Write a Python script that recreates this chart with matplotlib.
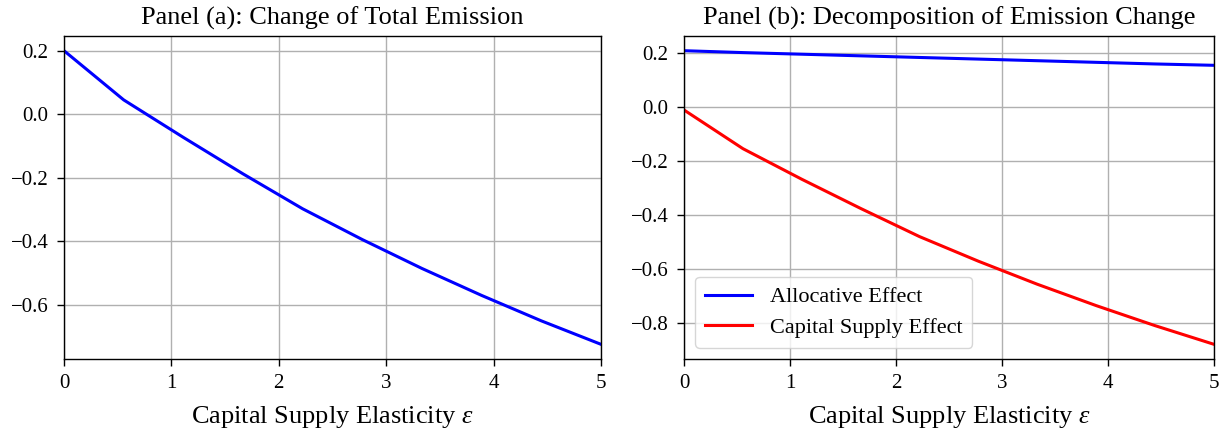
import numpy as np
import matplotlib
matplotlib.use("Agg")
import matplotlib.pyplot as plt

plt.rcParams["font.family"] = ["Liberation Serif", "DejaVu Serif"]
plt.rcParams["mathtext.fontset"] = "custom"
plt.rcParams["mathtext.rm"] = "Liberation Serif"
plt.rcParams["mathtext.it"] = "Liberation Serif:italic"

# Capital supply elasticity grid
epsilon = [0.0, 0.556, 1.111, 1.667, 2.222, 2.778, 3.333, 3.889, 4.444, 5.0]

# Change of total emission
total_change = [0.200, 0.045, -0.073, -0.188, -0.298, -0.395, -0.486, -0.571, -0.651, -0.725]

# Decomposition
allocative = [0.207, 0.200, 0.194, 0.188, 0.182, 0.176, 0.170, 0.164, 0.158, 0.153]
capital_supply = [-0.012, -0.155, -0.268, -0.376, -0.480, -0.571, -0.656, -0.735, -0.809, -0.878]

xlabel = r"Capital Supply Elasticity $\varepsilon$"
xticks = [0, 1, 2, 3, 4, 5]

fig = plt.figure(figsize=(12.28, 4.36), dpi=100)
ax1 = fig.add_axes([0.0521, 0.1766, 0.4373, 0.7408])
ax2 = fig.add_axes([0.5570, 0.1766, 0.4316, 0.7408])

ax1.plot(epsilon, total_change, color="blue", lw=2.2)
ax1.set_title("Panel (a): Change of Total Emission", fontsize=19, pad=8)

ax2.plot(epsilon, allocative, color="blue", lw=2.2, label="Allocative Effect")
ax2.plot(epsilon, capital_supply, color="red", lw=2.2, label="Capital Supply Effect")
ax2.set_title("Panel (b): Decomposition of Emission Change", fontsize=19, pad=8)
ax2.legend(loc="lower left", fontsize=16, handlelength=2.1, handletextpad=0.8,
           borderpad=0.45, labelspacing=0.45)

for ax in (ax1, ax2):
    ax.set_xlim(0, 5)
    ax.set_xticks(xticks)
    ax.grid(True, color="#b0b0b0", lw=1)
    ax.set_xlabel(xlabel, fontsize=19, labelpad=8)
    ax.tick_params(labelsize=15, length=5, width=1, pad=6)
    for sp in ax.spines.values():
        sp.set_linewidth(1.0)

fig.savefig("out.png", dpi=100)
